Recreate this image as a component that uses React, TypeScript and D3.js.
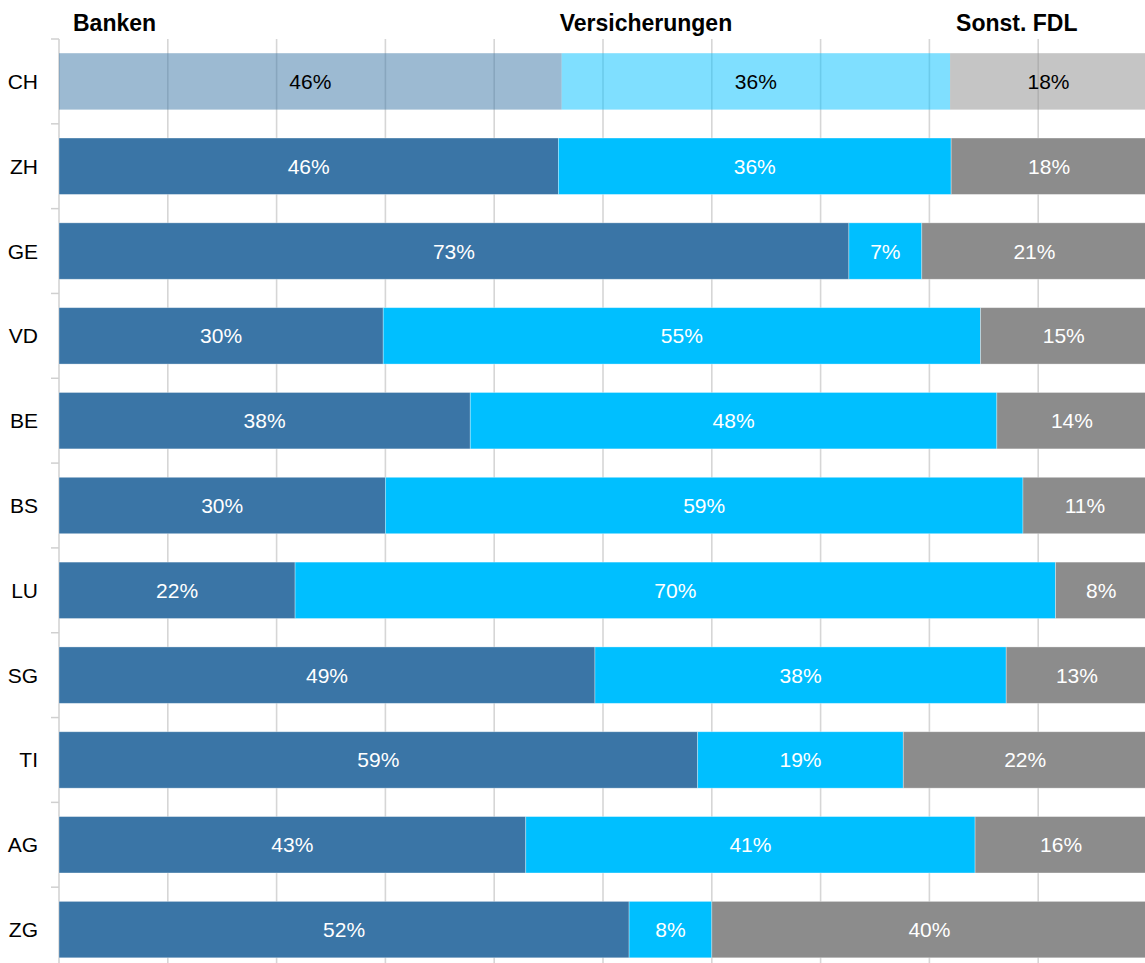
import React from "react";
import * as d3 from "d3";

const regions = ["CH", "ZH", "GE", "VD", "BE", "BS", "LU", "SG", "TI", "AG", "ZG"];
const banken = [0.462, 0.459, 0.726, 0.298, 0.378, 0.3, 0.217, 0.4926, 0.587, 0.429, 0.524];
const versicherungen = [0.357, 0.361, 0.067, 0.549, 0.484, 0.586, 0.699, 0.378, 0.189, 0.413, 0.076];
const sonstige = [0.181, 0.18, 0.207, 0.153, 0.138, 0.114, 0.084, 0.13, 0.224, 0.158, 0.4];
const seriesNames = ["Banken", "Versicherungen", "Sonst. FDL"];
const colors = ["#3a75a6", "#00bfff", "#8c8c8c"];
const xTicks = [0.1, 0.2, 0.3, 0.4, 0.5, 0.6, 0.7, 0.8, 0.9, 1.0];

const W = 1145;
const H = 963;
const FONT = "'Liberation Sans', Arial, sans-serif";

export default function App() {
  const x = d3.scaleLinear().domain([0, 1]).range([59, 1147]);
  const y = d3.scaleBand<string>().domain(regions).range([39, 972]).paddingInner(0.335).paddingOuter(0.1675);
  const step = y.step();
  const fmt = d3.format(".0%");

  const rows = regions.map((r, i) => ({ region: r, vals: [banken[i], versicherungen[i], sonstige[i]] }));
  const stacked = rows.map((row) => {
    let acc = 0;
    return row.vals.map((v) => {
      const s = acc;
      acc += v;
      return { x0: s, x1: acc, v };
    });
  });

  const ch = stacked[0];
  const headerX = [x(ch[0].x0) + 14, x(ch[1].x0) - 2, x(ch[2].x0) + 6];
  const boundaries = d3.range(regions.length + 1).map((i) => 39 + i * step);

  return (
    <svg width={W} height={H} style={{ position: "absolute", left: 0, top: 0, display: "block" }} fontFamily={FONT}>
      <rect width={W} height={H} fill="#fff" />
      {xTicks.map((t) => (
        <line key={t} x1={x(t)} x2={x(t)} y1={39} y2={972} stroke="#d6d6d6" strokeWidth={1.6} />
      ))}
      <line x1={59} x2={59} y1={39} y2={972} stroke="#d0d0d0" strokeWidth={1.5} />
      {boundaries.map((b, i) => (
        <line key={i} x1={51} x2={59} y1={b} y2={b} stroke="#d0d0d0" strokeWidth={1.5} />
      ))}
      {seriesNames.map((n, i) => (
        <text key={n} x={headerX[i]} y={31} fontSize={23} fontWeight="bold" fill="#000">
          {n}
        </text>
      ))}
      {rows.map((row, i) => {
        const y0 = y(row.region)!;
        const bh = y.bandwidth();
        const isCH = i === 0;
        return (
          <g key={row.region}>
            <text x={38} y={y0 + bh / 2} fontSize={21} textAnchor="end" dominantBaseline="central" fill="#000">
              {row.region}
            </text>
            {stacked[i].map((seg, j) => (
              <rect
                key={j}
                x={x(seg.x0)}
                y={y0}
                width={x(seg.x1) - x(seg.x0)}
                height={bh}
                fill={colors[j]}
                fillOpacity={isCH ? 0.5 : 1}
                stroke="#fff"
                strokeOpacity={isCH ? 0 : 0.4}
                strokeWidth={0.8}
              />
            ))}
            {stacked[i].map((seg, j) => (
              <text
                key={"t" + j}
                x={(x(seg.x0) + x(seg.x1)) / 2}
                y={y0 + bh / 2}
                fontSize={21}
                textAnchor="middle"
                dominantBaseline="central"
                fill={isCH ? "#000" : "#fff"}
              >
                {fmt(seg.v)}
              </text>
            ))}
          </g>
        );
      })}
    </svg>
  );
}
